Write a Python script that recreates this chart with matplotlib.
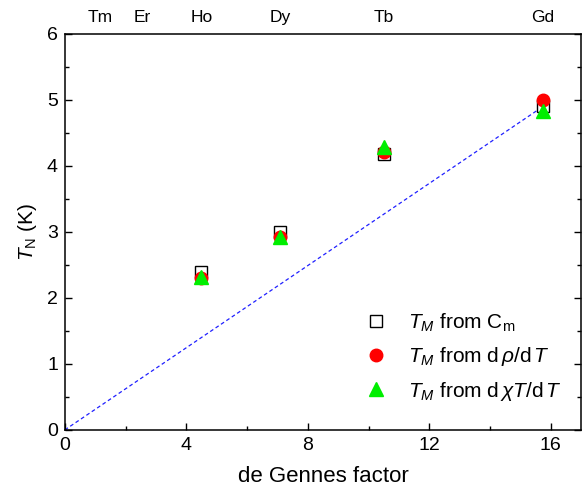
import matplotlib
matplotlib.use("Agg")
import matplotlib.pyplot as plt
from matplotlib.ticker import MultipleLocator

plt.rcParams["font.family"] = ["Liberation Sans", "DejaVu Sans"]
plt.rcParams["mathtext.fontset"] = "custom"
plt.rcParams["mathtext.rm"] = "Liberation Sans"
plt.rcParams["mathtext.it"] = "Liberation Sans:italic"

# element labels along the top, placed at their de Gennes factor
elements = ["Tm", "Er", "Ho", "Dy", "Tb", "Gd"]
element_dg = [1.17, 2.55, 4.5, 7.08, 10.5, 15.75]

# measured transition temperatures (Ho, Dy, Tb, Gd)
dg = [4.5, 7.08, 10.5, 15.75]
tm_cm = [2.39, 3.0, 4.18, 4.9]
tm_rho = [2.3, 2.92, 4.21, 5.0]
tm_chi = [2.31, 2.92, 4.29, 4.83]

# linear de Gennes scaling through the origin
fit_x = [0.0, 15.75]
fit_y = [0.0, 4.9]

fig = plt.figure(figsize=(5.84, 4.97), dpi=100)
ax = fig.add_axes([0.111, 0.135, 0.884, 0.797])

ax.plot(fit_x, fit_y, color="#2020ff", lw=0.9, ls=(0, (3, 2.2)))
ax.plot(dg, tm_cm, ls="none", marker="s", ms=8.5, mfc="white", mec="black",
        mew=1.0, label=r"$T_M$ from C$_\mathrm{m}$", zorder=3)
ax.plot(dg, tm_rho, ls="none", marker="o", ms=9, color="#ff0000",
        label=r"$T_M$ from d$\,\rho$/d$\,T$", zorder=4)
ax.plot(dg, tm_chi, ls="none", marker="^", ms=9.5, color="#00ee00",
        label=r"$T_M$ from d$\,\chi T$/d$\,T$", zorder=5)

ax.set_xlim(0, 17)
ax.set_ylim(0, 6)
ax.xaxis.set_major_locator(MultipleLocator(4))
ax.xaxis.set_minor_locator(MultipleLocator(2))
ax.yaxis.set_major_locator(MultipleLocator(1))
ax.yaxis.set_minor_locator(MultipleLocator(0.5))
ax.tick_params(which="both", direction="in", top=False, right=True,
               labelsize=14, width=1.0)
ax.tick_params(which="major", length=5, pad=5)
ax.tick_params(which="minor", length=3)
for s in ax.spines.values():
    s.set_linewidth(1.1)

ax.set_xlabel("de Gennes factor", fontsize=16, labelpad=9)
ax.set_ylabel(r"$T_\mathrm{N}$ (K)", fontsize=15, labelpad=6)

for name, x in zip(elements, element_dg):
    ax.text(x, 1.04, name, transform=ax.get_xaxis_transform(),
            ha="center", va="center", fontsize=12.5)

ax.legend(loc="lower right", bbox_to_anchor=(0.99, 0.032), frameon=False,
          fontsize=15, handletextpad=1.0, labelspacing=0.55,
          handlelength=1.0, borderaxespad=0.3)

fig.savefig("out.png", dpi=100)
